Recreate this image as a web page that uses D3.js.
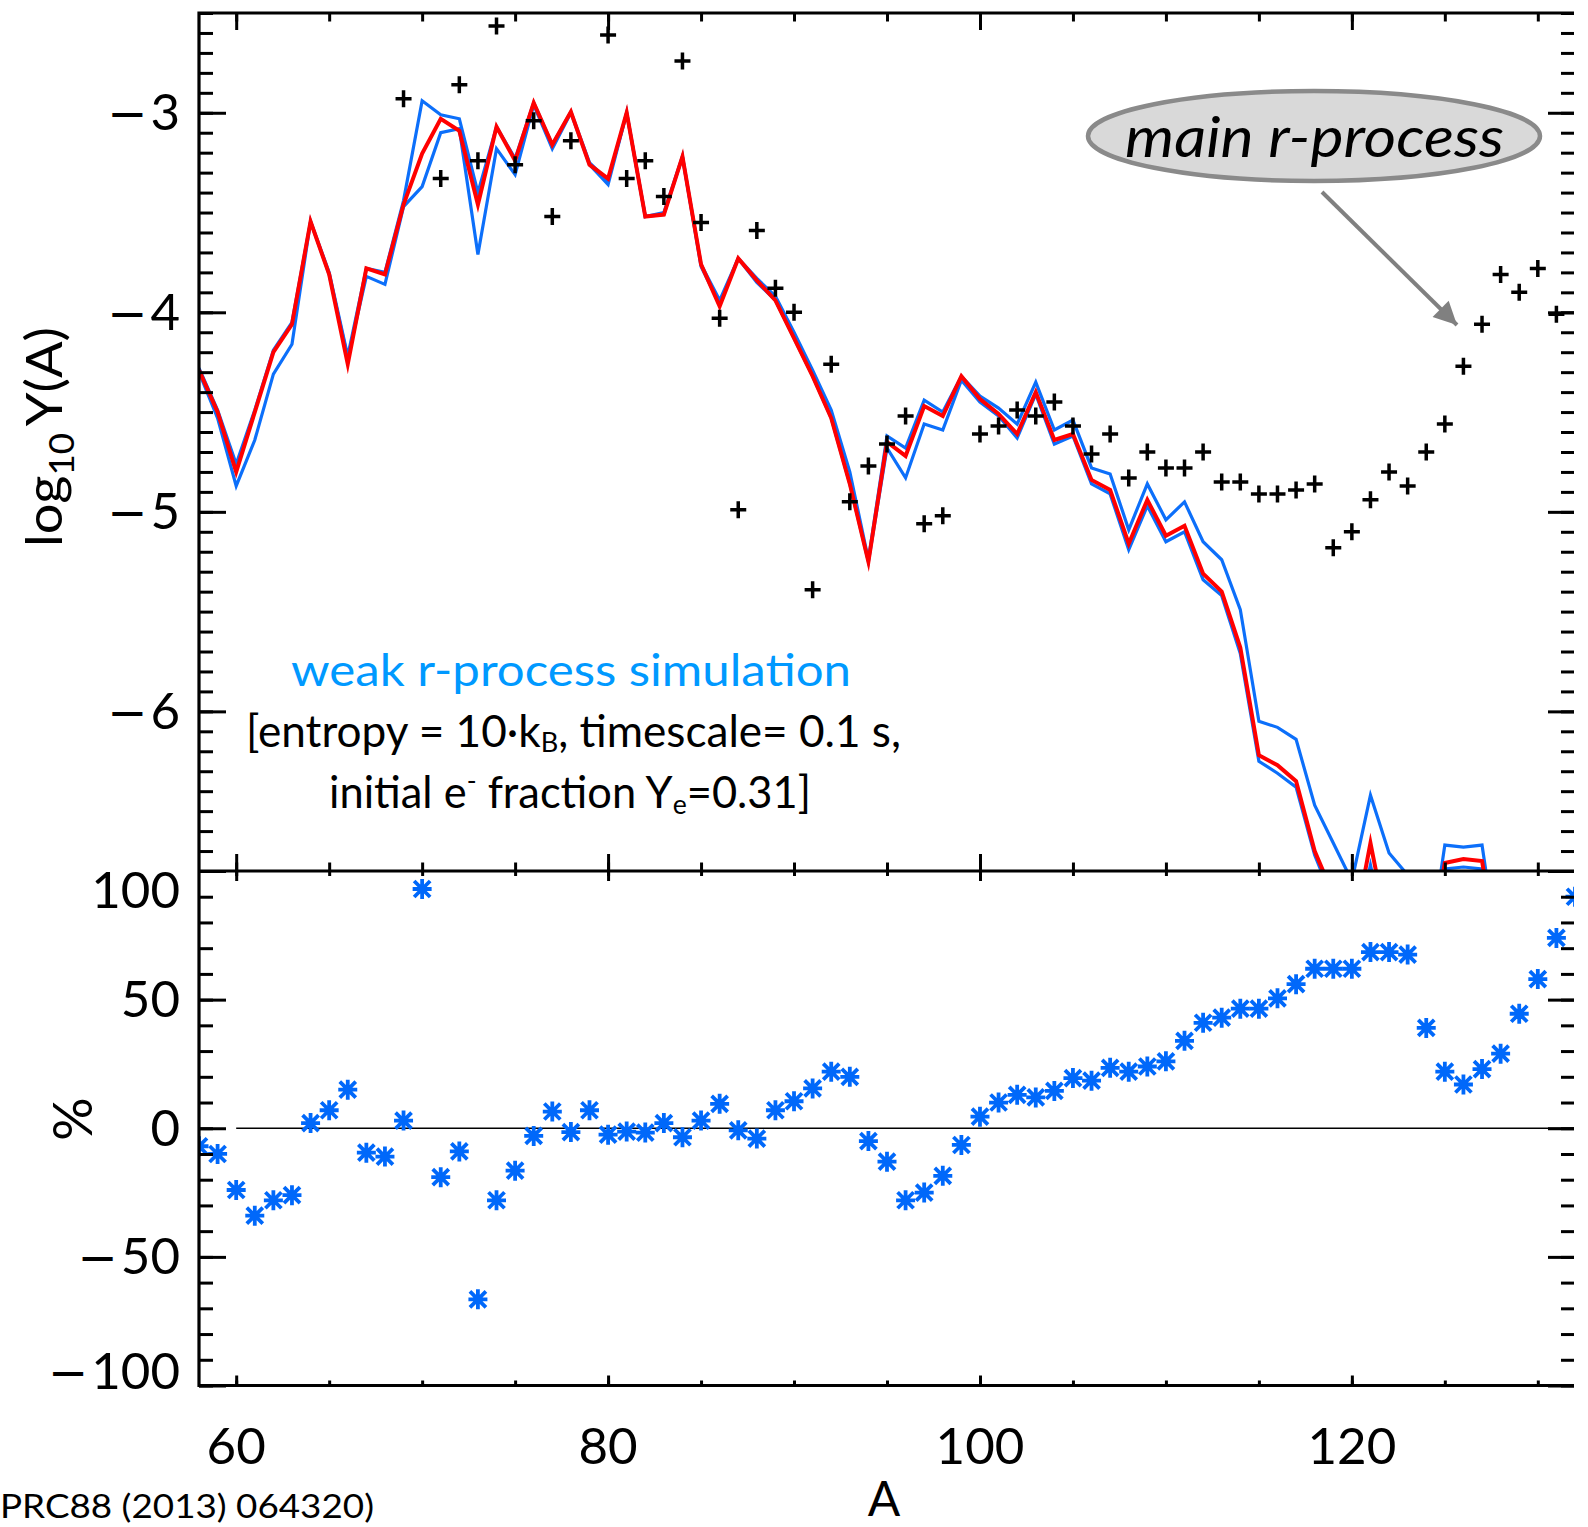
<!DOCTYPE html>
<html>
<head>
<meta charset="utf-8">
<script src="https://cdn.jsdelivr.net/npm/d3@7"></script>
<style>
  html, body { margin: 0; padding: 0; background: #fff; }
  svg { display: block; }
</style>
</head>
<body>
<svg id="chart" width="1588" height="1527"></svg>
<script>
// Mass numbers A for the simulated abundance curves
const lineA = [58,59,60,61,62,63,64,65,66,67,68,69,70,71,72,73,74,75,76,77,78,79,80,81,82,83,84,85,86,87,88,89,90,91,92,93,94,95,96,97,98,99,100,101,102,103,104,105,106,107,108,109,110,111,112,113,114,115,116,117,118,119,120,121,122,123,124,125,126,127,128];

// log10 Y(A), reference simulation (red)
const yieldRef = [-4.29,-4.50,-4.80,-4.50,-4.20,-4.06,-3.545,-3.81,-4.26,-3.78,-3.81,-3.46,-3.205,-3.03,-3.09,-3.46,-3.07,-3.24,-2.95,-3.16,-2.995,-3.26,-3.33,-3.00,-3.52,-3.51,-3.22,-3.76,-3.97,-3.73,-3.84,-3.94,-4.13,-4.32,-4.53,-4.86,-5.25,-4.65,-4.72,-4.47,-4.52,-4.32,-4.435,-4.51,-4.61,-4.40,-4.64,-4.61,-4.84,-4.89,-5.16,-4.94,-5.12,-5.07,-5.31,-5.40,-5.68,-6.22,-6.27,-6.35,-6.70,-6.92,-7.15,-6.66,-7.13,-7.40,-7.30,-6.76,-6.74,-6.75,-7.30];

// log10 Y(A), varied simulations (blue)
const yieldHigh = [-4.28,-4.49,-4.76,-4.49,-4.19,-4.05,-3.545,-3.80,-4.22,-3.78,-3.80,-3.44,-2.94,-3.01,-3.03,-3.40,-3.07,-3.23,-2.95,-3.16,-2.995,-3.25,-3.34,-3.00,-3.52,-3.50,-3.22,-3.76,-3.94,-3.73,-3.83,-3.92,-4.10,-4.29,-4.49,-4.80,-5.24,-4.62,-4.68,-4.44,-4.50,-4.32,-4.42,-4.48,-4.56,-4.35,-4.59,-4.54,-4.78,-4.81,-5.09,-4.86,-5.04,-4.95,-5.15,-5.24,-5.49,-6.05,-6.08,-6.14,-6.47,-6.66,-6.85,-6.42,-6.71,-6.82,-7.30,-6.67,-6.68,-6.67,-7.30];
const yieldLow = [-4.30,-4.53,-4.87,-4.64,-4.31,-4.16,-3.545,-3.81,-4.23,-3.82,-3.86,-3.47,-3.37,-3.10,-3.08,-3.71,-3.18,-3.31,-2.96,-3.18,-3.00,-3.26,-3.36,-3.00,-3.52,-3.51,-3.22,-3.77,-3.96,-3.73,-3.85,-3.94,-4.13,-4.32,-4.53,-4.86,-5.25,-4.68,-4.83,-4.56,-4.59,-4.34,-4.45,-4.52,-4.63,-4.41,-4.66,-4.62,-4.86,-4.91,-5.19,-4.97,-5.15,-5.10,-5.34,-5.42,-5.71,-6.25,-6.31,-6.38,-6.72,-6.95,-7.20,-6.77,-7.20,-7.40,-7.30,-6.79,-6.78,-6.79,-7.30];

// Solar r-process abundances (black crosses)
const solarA = [69,71,72,73,74,75,76,77,78,80,81,82,83,84,85,86,87,88,89,90,91,92,93,94,95,96,97,98,100,101,102,103,104,105,106,107,108,109,110,111,112,113,114,115,116,117,118,119,120,121,122,123,124,125,126,127,128,129,130,131];
const solarY = [-2.93,-3.33,-2.86,-3.24,-2.565,-3.26,-3.04,-3.52,-3.14,-2.61,-3.33,-3.24,-3.42,-2.74,-3.55,-4.03,-4.99,-3.59,-3.88,-4.00,-5.39,-4.26,-4.95,-4.77,-4.66,-4.52,-5.06,-5.02,-4.61,-4.57,-4.49,-4.52,-4.45,-4.57,-4.71,-4.61,-4.83,-4.70,-4.78,-4.78,-4.70,-4.85,-4.85,-4.91,-4.91,-4.89,-4.86,-5.18,-5.10,-4.94,-4.80,-4.87,-4.70,-4.56,-4.27,-4.06,-3.81,-3.90,-3.78,-4.01];

// Relative spread in percent (blue asterisks)
const spreadA = [58,59,60,61,62,63,64,65,66,67,68,69,70,71,72,73,74,75,76,77,78,79,80,81,82,83,84,85,86,87,88,89,90,91,92,93,94,95,96,97,98,99,100,101,102,103,104,105,106,107,108,109,110,111,112,113,114,115,116,117,118,119,120,121,122,123,124,125,126,127,128,129,130,131,132];
const spreadPct = [-7,-10,-24,-34,-28,-26,2,7,15,-9.5,-11,3,93,-19,-9,-66.5,-28,-16.5,-3,6.5,-1.5,7,-2.5,-1.3,-1.7,2,-3.5,3,9.5,-0.8,-4,7,10.5,15.5,22,20,-5,-13,-28,-25,-18.5,-6.5,4.5,10,13,12,14.5,19.5,18.5,23.5,22,24,26,34,41,43,46.5,46.5,50.5,56,62,62,62,68.5,68.5,67.5,39,22,17,23,29,44.5,58,74,90];

// Tick values and labels
const topTickValues = [-6, -5, -4, -3];
const topTickLabels = ["\u22126", "\u22125", "\u22124", "\u22123"];
const bottomTickValues = [100, 50, 0, -50, -100];
const bottomTickLabels = ["100", "50", "0", "\u221250", "\u2212100"];
const xTickValues = [60, 80, 100, 120];
const xTickLabels = ["60", "80", "100", "120"];

const FONT = "Lato, 'Open Sans', sans-serif";
const BLUE_LINE = "#0c6ffa";
const BLUE_MARK = "#0068fa";
const RED_LINE = "#ff0000";

const svg = d3.select("#chart");
const plotLeft = 199, plotRight = 1574;
const topY0 = 13, midY = 871, botY1 = 1385.5;

const x = d3.scaleLinear().domain([58, 132]).range([plotLeft, 1575]);
const yTop = d3.scaleLinear().domain([-6.8, -2.5]).range([midY, topY0]);
const yBot = d3.scaleLinear().domain([-100, 100]).range([botY1, midY]);

const defs = svg.append("defs");
defs.append("clipPath").attr("id", "clipTop").append("rect")
  .attr("x", plotLeft).attr("y", topY0).attr("width", plotRight - plotLeft).attr("height", midY - topY0);
defs.append("clipPath").attr("id", "clipBot").append("rect")
  .attr("x", plotLeft).attr("y", midY).attr("width", plotRight - plotLeft).attr("height", botY1 - midY);

// ---------- upper panel: abundance curves ----------
const topG = svg.append("g").attr("clip-path", "url(#clipTop)");
const pairs = vals => lineA.map((a, i) => [a, vals[i]]);
const abundanceLine = d3.line().x(d => x(d[0])).y(d => yTop(d[1]));

[[yieldHigh, BLUE_LINE, 3.2], [yieldLow, BLUE_LINE, 3.2], [yieldRef, RED_LINE, 4]].forEach(([vals, col, w]) => {
  topG.append("path").datum(pairs(vals))
    .attr("d", abundanceLine)
    .attr("fill", "none").attr("stroke", col).attr("stroke-width", w)
    .attr("stroke-linejoin", "miter").attr("stroke-miterlimit", 6);
});

topG.selectAll("path.solar")
  .data(solarA.map((a, i) => [a, solarY[i]]))
  .join("path").attr("class", "solar")
  .attr("transform", d => `translate(${x(d[0])},${yTop(d[1])})`)
  .attr("d", "M-8,0H8M0,-8.5V8.5")
  .attr("fill", "none").attr("stroke", "#000").attr("stroke-width", 3.5);

// ---------- lower panel: percentage spread ----------
svg.append("line")
  .attr("x1", x(60)).attr("x2", plotRight)
  .attr("y1", yBot(0)).attr("y2", yBot(0))
  .attr("stroke", "#000").attr("stroke-width", 1.6);

const botG = svg.append("g").attr("clip-path", "url(#clipBot)");
botG.selectAll("path.spread")
  .data(spreadA.map((a, i) => [a, spreadPct[i]]))
  .join("path").attr("class", "spread")
  .attr("transform", d => `translate(${x(d[0])},${yBot(d[1])})`)
  .attr("d", "M-9.5,0H9.5M0,-10V10M-8,-8L8,8M-8,8L8,-8")
  .attr("fill", "none").attr("stroke", BLUE_MARK).attr("stroke-width", 3.8);

// ---------- axes (ticks via d3.axis, inward-pointing) ----------
function tickRow(axisFn, scale, tx, ty, size, values) {
  const g = svg.append("g").attr("transform", `translate(${tx},${ty})`)
    .call(axisFn(scale).tickValues(values).tickSize(size).tickFormat(""));
  g.select(".domain").remove();
  g.selectAll("text").remove();
  g.selectAll(".tick line").attr("stroke", "#000").attr("stroke-width", 3);
}

const xMinor = d3.range(60, 131, 5);
const topMinor = d3.range(-68, -24).map(v => v / 10);
const botMinor = d3.range(-100, 101, 10);
const botMajor = [-100, -50, 0, 50, 100];

// upper panel
tickRow(d3.axisLeft, yTop, plotLeft, 0, -14, topMinor);
tickRow(d3.axisLeft, yTop, plotLeft, 0, -27, topTickValues);
tickRow(d3.axisRight, yTop, plotRight, 0, -13, topMinor);
tickRow(d3.axisRight, yTop, plotRight, 0, -26, topTickValues);
tickRow(d3.axisTop, x, 0, topY0, -8.5, xMinor);
tickRow(d3.axisTop, x, 0, topY0, -17, xTickValues);
tickRow(d3.axisBottom, x, 0, midY, -8.5, xMinor);
tickRow(d3.axisBottom, x, 0, midY, -17, xTickValues);
// lower panel
tickRow(d3.axisLeft, yBot, plotLeft, 0, -14, botMinor);
tickRow(d3.axisLeft, yBot, plotLeft, 0, -27, botMajor);
tickRow(d3.axisRight, yBot, plotRight, 0, -13, botMinor);
tickRow(d3.axisRight, yBot, plotRight, 0, -26, botMajor);
tickRow(d3.axisTop, x, 0, midY, -5, xMinor);
tickRow(d3.axisTop, x, 0, midY, -10, xTickValues);
tickRow(d3.axisBottom, x, 0, botY1, -5, xMinor);
tickRow(d3.axisBottom, x, 0, botY1, -10, xTickValues);

// frame
svg.append("path")
  .attr("d", `M${plotRight},${topY0}H${plotLeft}V${botY1}H${plotRight}M${plotLeft},${midY}H${plotRight}`)
  .attr("fill", "none").attr("stroke", "#000").attr("stroke-width", 3.2);

// ---------- tick labels ----------
// negative labels: a wide minus sign set slightly apart from the digits
function signedLabel(sel, label) {
  sel.each(function (d, i) {
    const t = d3.select(this), s = label[i];
    if (s.startsWith("\u2212")) {
      t.append("tspan").attr("font-family", "'DejaVu Sans', sans-serif").attr("font-size", 48).text("\u2212");
      t.append("tspan").attr("dx", 3).text(s.slice(1));
    } else {
      t.text(s);
    }
  });
}

svg.append("g").selectAll("text")
  .data(topTickValues).join("text")
  .attr("x", plotLeft - 19).attr("y", d => yTop(d)).attr("dy", "0.34em")
  .attr("text-anchor", "end").attr("font-family", FONT).attr("font-size", 51)
  .call(signedLabel, topTickLabels);

svg.append("g").selectAll("text")
  .data(bottomTickValues).join("text")
  .attr("x", plotLeft - 19)
  .attr("y", d => yBot(d) + (d === 100 ? 20 : d === -100 ? -14 : 0)).attr("dy", "0.34em")
  .attr("text-anchor", "end").attr("font-family", FONT).attr("font-size", 51)
  .call(signedLabel, bottomTickLabels);

svg.append("g").selectAll("text")
  .data(xTickValues).join("text")
  .attr("x", d => x(d)).attr("y", 1464)
  .attr("text-anchor", "middle").attr("font-family", FONT).attr("font-size", 51)
  .text((d, i) => xTickLabels[i]);

// ---------- axis titles ----------
svg.append("text")
  .attr("x", 884).attr("y", 1516)
  .attr("text-anchor", "middle").attr("font-family", FONT).attr("font-size", 48)
  .text("A");

const yTitle = svg.append("text")
  .attr("transform", "translate(62,437) rotate(-90)")
  .attr("text-anchor", "middle").attr("font-family", FONT).attr("font-size", 50)
  .attr("textLength", 220).attr("lengthAdjust", "spacingAndGlyphs");
yTitle.append("tspan").text("log");
yTitle.append("tspan").attr("font-size", 34).attr("dy", 12).text("10");
yTitle.append("tspan").attr("dy", -12).text("\u2009Y(A)");

svg.append("text")
  .attr("transform", "translate(92,1119) rotate(-90)")
  .attr("text-anchor", "middle").attr("font-family", FONT).attr("font-size", 54)
  .text("%");

// ---------- annotations ----------
svg.append("text")
  .attr("x", 291).attr("y", 686)
  .attr("font-family", FONT).attr("font-size", 44).attr("fill", "#0099ff")
  .attr("textLength", 560).attr("lengthAdjust", "spacingAndGlyphs")
  .text("weak r-process simulation");

const params1 = svg.append("text")
  .attr("x", 246).attr("y", 747)
  .attr("font-family", FONT).attr("font-size", 44).attr("fill", "#000")
  .attr("textLength", 655).attr("lengthAdjust", "spacingAndGlyphs");
params1.append("tspan").text("[entropy = 10\u00b7k");
params1.append("tspan").attr("font-size", 27).attr("dy", 5).text("B");
params1.append("tspan").attr("dy", -5).text(", timescale= 0.1 s,");

const params2 = svg.append("text")
  .attr("x", 329).attr("y", 808)
  .attr("font-family", FONT).attr("font-size", 44).attr("fill", "#000")
  .attr("textLength", 482).attr("lengthAdjust", "spacingAndGlyphs");
params2.append("tspan").text("initial e");
params2.append("tspan").attr("font-size", 27).attr("dy", -18).text("-");
params2.append("tspan").attr("dy", 18).text(" fraction Y");
params2.append("tspan").attr("font-size", 27).attr("dy", 6).text("e");
params2.append("tspan").attr("dy", -6).text("=0.31]");

// callout
svg.append("ellipse")
  .attr("cx", 1314).attr("cy", 136).attr("rx", 226).attr("ry", 45)
  .attr("fill", "#d9d9d9").attr("stroke", "#8a8a8a").attr("stroke-width", 4.5);
svg.append("text")
  .attr("x", 1125).attr("y", 157)
  .attr("font-family", FONT).attr("font-style", "italic").attr("font-size", 57)
  .attr("textLength", 379).attr("lengthAdjust", "spacingAndGlyphs")
  .text("main r-process");

defs.append("marker").attr("id", "arrowHead")
  .attr("viewBox", "0 0 10 10").attr("refX", 10).attr("refY", 5)
  .attr("markerUnits", "userSpaceOnUse").attr("markerWidth", 26).attr("markerHeight", 23)
  .attr("orient", "auto")
  .append("path").attr("d", "M0,0L10,5L0,10Z").attr("fill", "#808080");
svg.append("line")
  .attr("x1", 1322).attr("y1", 192).attr("x2", 1457).attr("y2", 325)
  .attr("stroke", "#808080").attr("stroke-width", 4)
  .attr("marker-end", "url(#arrowHead)");

// citation
svg.append("text")
  .attr("x", 0).attr("y", 1518)
  .attr("font-family", FONT).attr("font-size", 33)
  .attr("textLength", 374).attr("lengthAdjust", "spacingAndGlyphs")
  .text("PRC88 (2013) 064320)");
</script>
</body>
</html>
